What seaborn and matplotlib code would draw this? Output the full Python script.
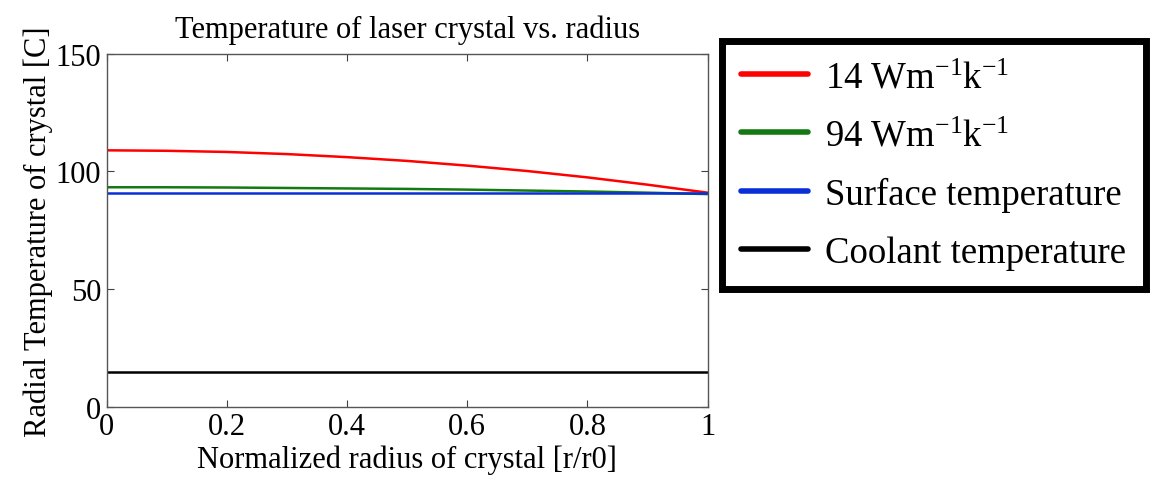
import pandas as pd
import matplotlib
matplotlib.use('Agg')
import matplotlib.pyplot as plt
import seaborn as sns

# values
radius = [0.0, 0.1, 0.2, 0.3, 0.4, 0.5, 0.6, 0.7, 0.8, 0.9, 1.0]
temp_14 = [109.0, 108.8, 108.3, 107.4, 106.1, 104.5, 102.5, 100.2, 97.5, 94.4, 91.0]
temp_94 = [93.3, 93.3, 93.2, 93.0, 92.8, 92.6, 92.3, 91.9, 91.5, 91.0, 90.4]
surface_temp = [91.0] * len(radius)
coolant_temp = [15.0] * len(radius)

labels = [r'14 Wm$^{-1}$k$^{-1}$', r'94 Wm$^{-1}$k$^{-1}$',
          'Surface temperature', 'Coolant temperature']
colors = ['#ff0000', '#137a13', '#0a2fd8', '#000000']

sns.set_style('ticks')
plt.rcParams['font.family'] = ['Liberation Serif', 'DejaVu Serif']
plt.rcParams['mathtext.default'] = 'regular'
plt.rcParams['text.color'] = 'black'
plt.rcParams['xtick.labelcolor'] = 'black'
plt.rcParams['ytick.labelcolor'] = 'black'
plt.rcParams['axes.labelcolor'] = 'black'

fig = plt.figure(figsize=(11.6, 4.85), dpi=100)
ax = fig.add_axes([0.092, 0.159, 0.518, 0.728])

for series, label, color in zip([temp_14, temp_94, surface_temp, coolant_temp], labels, colors):
    sns.lineplot(x=radius, y=series, ax=ax, color=color, linewidth=1.8, label=label)

ax.set_xlim(0, 1)
ax.set_ylim(0, 150)
ax.set_xticks([0, 0.2, 0.4, 0.6, 0.8, 1])
ax.set_xticklabels(['0', '0.2', '0.4', '0.6', '0.8', '1'])
ax.set_yticks([0, 50, 100, 150])
ax.tick_params(direction='in', top=True, right=True, labelsize=22, length=5,
               color='#404040', pad=4)
for sp in ax.spines.values():
    sp.set_color('#555555')
    sp.set_linewidth(1.0)

ax.set_title('Temperature of laser crystal vs. radius', fontsize=22, pad=12)
ax.set_xlabel('Normalized radius of crystal [r/r0]', fontsize=22, labelpad=2)
ax.set_ylabel('Radial Temperature of crystal [C]', fontsize=22, labelpad=2)

leg = ax.legend(loc='upper left', bbox_to_anchor=(0.6224, 0.9134), bbox_transform=fig.transFigure,
                fontsize=26.5, frameon=True, fancybox=False, framealpha=1,
                handlelength=1.8, borderpad=0.53, labelspacing=0.64,
                handletextpad=0.48, borderaxespad=0)
leg.get_frame().set_edgecolor('black')
leg.get_frame().set_linewidth(5)
for line in leg.get_lines():
    line.set_linewidth(4)

plt.savefig('out.png', dpi=100)
